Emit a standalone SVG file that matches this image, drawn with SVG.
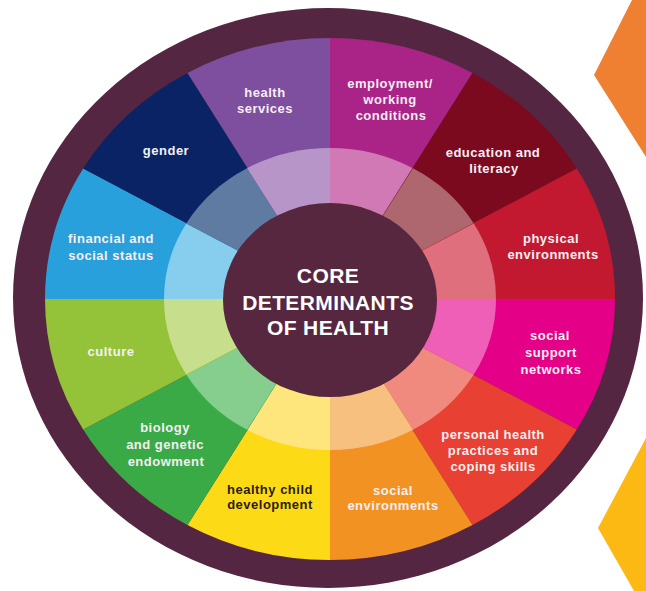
<svg xmlns="http://www.w3.org/2000/svg" width="646" height="591" viewBox="0 0 646 591">
<style>
.lbl{font-family:"Liberation Sans",Arial,sans-serif;font-weight:bold;font-size:13px;fill:#F5EFF3;text-anchor:middle;letter-spacing:0.5px}
.dark{fill:#2B1B17}
.core{font-family:"Liberation Sans",Arial,sans-serif;font-weight:bold;font-size:21px;fill:#FFFFFF;text-anchor:middle;letter-spacing:0.4px}
</style>
<rect x="0" y="0" width="646" height="591" fill="#FFFFFF"/>
<polygon points="632,0 594,75 646,157 646,0" fill="#EF7F31"/>
<polygon points="646,438 598,528 634,591 646,591" fill="#FDB913"/>
<ellipse id="ring" cx="328" cy="298" rx="315" ry="290" fill="#552641"/>
<g id="employment">
<path d="M330,299 L330,38 A285,261 0 0,1 472.5,72.97 Z" fill="#AA2387"/>
<path d="M330,299 L330,148 A166,151 0 0,1 413,168.23 Z" fill="#D079B4"/>
<text class="lbl" x="390" y="88">employment/</text>
<text class="lbl" x="390" y="104">working</text>
<text class="lbl" x="391" y="120">conditions</text>
</g>
<g id="education">
<path d="M330,299 L472.5,72.97 A285,261 0 0,1 576.82,168.5 Z" fill="#7C0A1F"/>
<path d="M330,299 L413,168.23 A166,151 0 0,1 473.76,223.5 Z" fill="#AE676F"/>
<text class="lbl" x="493" y="157">education and</text>
<text class="lbl" x="494" y="173">literacy</text>
</g>
<g id="physical">
<path d="M330,299 L576.82,168.5 A285,261 0 0,1 615,299 Z" fill="#C31930"/>
<path d="M330,299 L473.76,223.5 A166,151 0 0,1 496,299 Z" fill="#DF6F7C"/>
<text class="lbl" x="551" y="243">physical</text>
<text class="lbl" x="553" y="259">environments</text>
</g>
<g id="support">
<path d="M330,299 L615,299 A285,261 0 0,1 576.82,429.5 Z" fill="#E40087"/>
<path d="M330,299 L496,299 A166,151 0 0,1 473.76,374.5 Z" fill="#F05FB7"/>
<text class="lbl" x="550" y="340">social</text>
<text class="lbl" x="551" y="357">support</text>
<text class="lbl" x="551" y="374">networks</text>
</g>
<g id="personal">
<path d="M330,299 L576.82,429.5 A285,261 0 0,1 472.5,525.03 Z" fill="#E84032"/>
<path d="M330,299 L473.76,374.5 A166,151 0 0,1 413,429.77 Z" fill="#F08A7F"/>
<text class="lbl" x="493" y="439">personal health</text>
<text class="lbl" x="493" y="455">practices and</text>
<text class="lbl" x="493" y="471">coping skills</text>
</g>
<g id="socialenv">
<path d="M330,299 L472.5,525.03 A285,261 0 0,1 330,560 Z" fill="#F29223"/>
<path d="M330,299 L413,429.77 A166,151 0 0,1 330,450 Z" fill="#F8C07E"/>
<text class="lbl" x="393" y="495">social</text>
<text class="lbl" x="393" y="510">environments</text>
</g>
<g id="child">
<path d="M330,299 L330,560 A285,261 0 0,1 187.5,525.03 Z" fill="#FDDA16"/>
<path d="M330,299 L330,450 A166,151 0 0,1 247,429.77 Z" fill="#FEE67D"/>
<text class="lbl dark" x="270" y="494">healthy child</text>
<text class="lbl dark" x="270" y="509">development</text>
</g>
<g id="biology">
<path d="M330,299 L187.5,525.03 A285,261 0 0,1 83.18,429.5 Z" fill="#3AAA46"/>
<path d="M330,299 L247,429.77 A166,151 0 0,1 186.24,374.5 Z" fill="#85CE8E"/>
<text class="lbl" x="165" y="432">biology</text>
<text class="lbl" x="165" y="449">and genetic</text>
<text class="lbl" x="166" y="466">endowment</text>
</g>
<g id="culture">
<path d="M330,299 L83.18,429.5 A285,261 0 0,1 45,299 Z" fill="#94C33A"/>
<path d="M330,299 L186.24,374.5 A166,151 0 0,1 164,299 Z" fill="#C7DF8C"/>
<text class="lbl" x="111" y="356">culture</text>
</g>
<g id="financial">
<path d="M330,299 L45,299 A285,261 0 0,1 83.18,168.5 Z" fill="#28A0DC"/>
<path d="M330,299 L164,299 A166,151 0 0,1 186.24,223.5 Z" fill="#86CDEE"/>
<text class="lbl" x="111" y="243">financial and</text>
<text class="lbl" x="111" y="260">social status</text>
</g>
<g id="gender">
<path d="M330,299 L83.18,168.5 A285,261 0 0,1 187.5,72.97 Z" fill="#0A2364"/>
<path d="M330,299 L186.24,223.5 A166,151 0 0,1 247,168.23 Z" fill="#5F7BA2"/>
<text class="lbl" x="166" y="155">gender</text>
</g>
<g id="healthservices">
<path d="M330,299 L187.5,72.97 A285,261 0 0,1 330,38 Z" fill="#7E4E9F"/>
<path d="M330,299 L247,168.23 A166,151 0 0,1 330,148 Z" fill="#B895C9"/>
<text class="lbl" x="265" y="97">health</text>
<text class="lbl" x="265" y="113">services</text>
</g>
<g id="core">
<ellipse cx="330" cy="300" rx="107" ry="97" fill="#56273F"/>
<text class="core" x="328" y="283">CORE</text>
<text class="core" x="328" y="310">DETERMINANTS</text>
<text class="core" x="328" y="335">OF HEALTH</text>
</g>
<g id="connectors"/>
</svg>
